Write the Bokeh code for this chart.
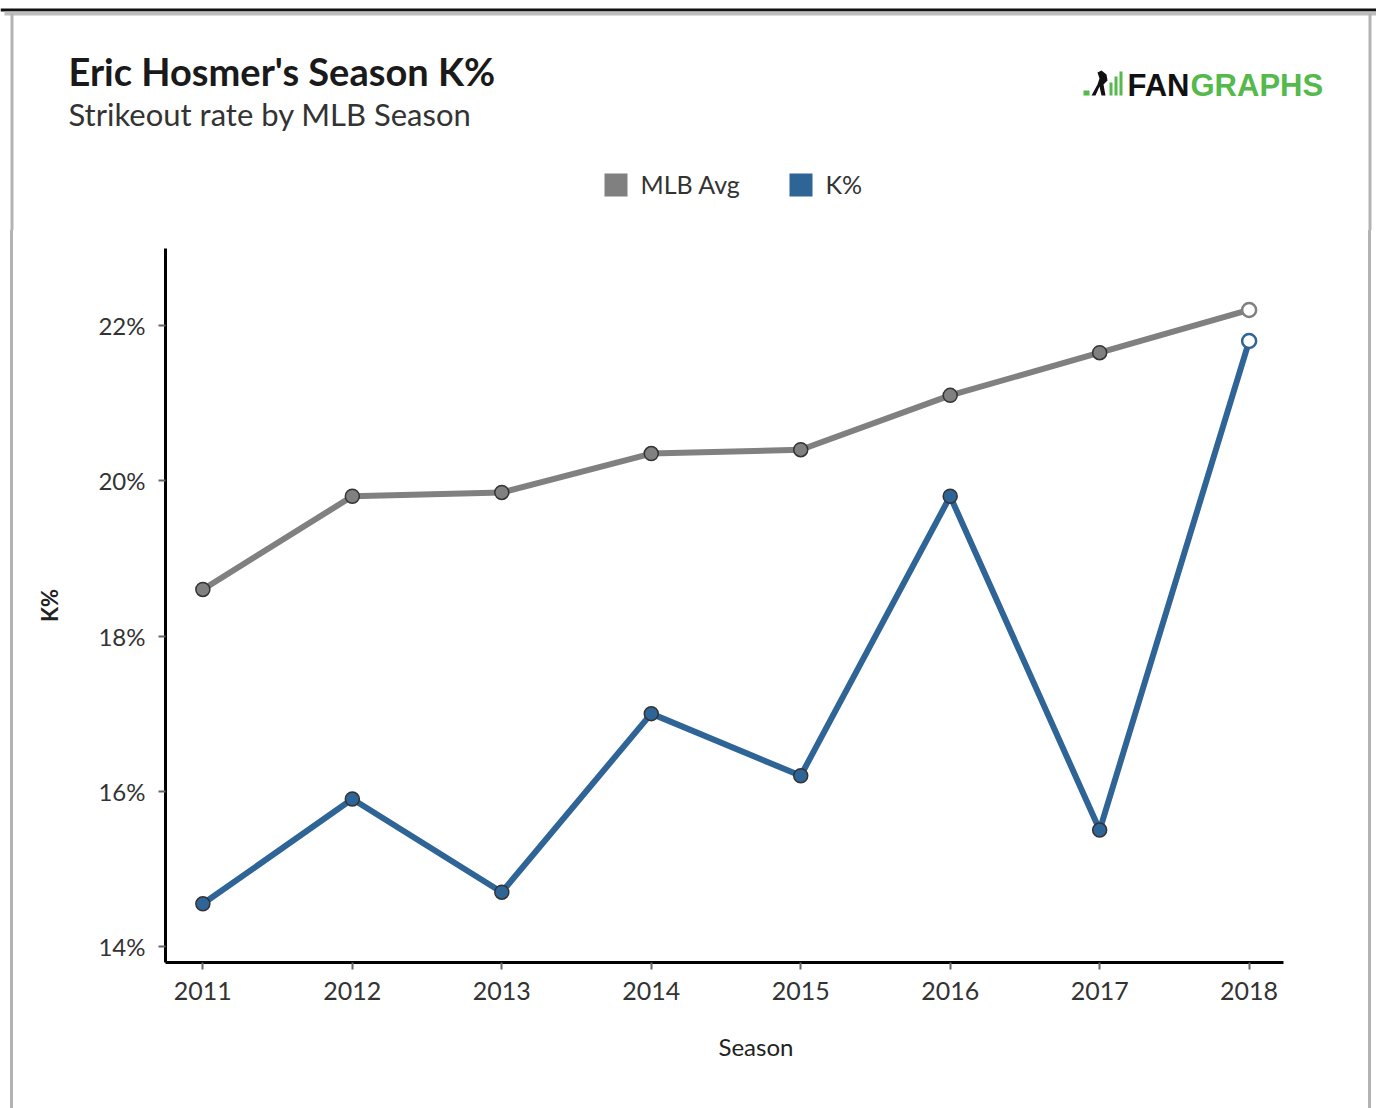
from bokeh.plotting import figure
from bokeh.models import Range1d, FixedTicker, ColumnDataSource, Title
from bokeh.core.properties import value
from bokeh.embed import file_html
from bokeh.resources import INLINE

seasons = [2011, 2012, 2013, 2014, 2015, 2016, 2017, 2018]
mlb_avg = [18.6, 19.8, 19.85, 20.35, 20.4, 21.1, 21.65, 22.2]
k_pct = [14.55, 15.9, 14.7, 17.0, 16.2, 19.8, 15.5, 21.8]
y_ticks = [14, 16, 18, 20, 22]
y_tick_labels = ["14%", "16%", "18%", "20%", "22%"]
legend_labels = ["MLB Avg", "K%"]

GRAY = "#808080"
BLUE = "#2f6497"
GREEN = "#55b94c"
FONT = "Lato"

W, H = 1376, 1108
HEAD_H = 230
FL, FR, FT, FB = 165, 1283, 248, 962

# ---------------- header (title, logo, legend, frame lines) ----------------
hd = figure(width=W, height=HEAD_H, output_backend="svg", toolbar_location=None,
            frame_width=W, frame_height=HEAD_H,
            x_range=Range1d(0, W), y_range=Range1d(HEAD_H, 0),
            x_axis_location=None, y_axis_location=None, min_border=0)
hd.grid.visible = False
hd.outline_line_color = None

# page frame lines
hd.quad(left=[0], right=[W], top=[8], bottom=[11], fill_color="#111111", line_color=None)
hd.quad(left=[4], right=[W], top=[11], bottom=[15], fill_color="#bdbdbd", line_color=None)
hd.quad(left=[10, 1368], right=[13, 1371], top=[13, 13], bottom=[HEAD_H, HEAD_H],
        fill_color="#b3b3b3", line_color=None)

hd.text(x=[68], y=[70], text=["Eric Hosmer's Season K%"], text_font=value(FONT),
        text_font_size="38px", text_font_style="bold", text_color="#1a1a1a",
        text_baseline="middle")
hd.text(x=[68], y=[113], text=["Strikeout rate by MLB Season"], text_font=value(FONT),
        text_font_size="31px", text_color="#333333", text_baseline="middle")

# logo
hd.quad(left=[1083], right=[1089], top=[90], bottom=[95], fill_color=GREEN, line_color=None)
hd.patch(x=[1091, 1097, 1099, 1097, 1101, 1106, 1107, 1103, 1105, 1101, 1099, 1095],
         y=[95, 84, 78, 72, 70, 74, 80, 84, 95, 95, 86, 95],
         fill_color="#111111", line_color=None)
hd.quad(left=[1109, 1114, 1119], right=[1112, 1117, 1122], top=[82, 76, 71],
        bottom=[95, 95, 95], fill_color=GREEN, line_color=None)
hd.text(x=[1127], y=[85], text=["FAN"], text_font=value("Liberation Sans"),
        text_font_size="31px", text_font_style="bold", text_color="#111111",
        text_baseline="middle")
hd.text(x=[1190], y=[85], text=["GRAPHS"], text_font=value("Liberation Sans"),
        text_font_size="31px", text_font_style="bold", text_color=GREEN,
        text_baseline="middle")

# legend
hd.quad(left=[604, 789], right=[627, 812], top=[173, 173], bottom=[196, 196],
        fill_color=[GRAY, BLUE], line_color=None)
hd.text(x=[640, 825], y=[183, 183], text=legend_labels, text_font=value(FONT),
        text_font_size="25px", text_color="#333333", text_baseline="middle")

# ---------------- main chart ----------------
MH = H - HEAD_H
p = figure(width=W, height=MH, output_backend="svg", toolbar_location=None,
           frame_width=FR - FL, frame_height=FB - FT,
           min_border_left=FL, min_border_right=W - FR,
           min_border_top=FT - HEAD_H, min_border_bottom=H - FB,
           x_range=Range1d(2010.75, 2018.23), y_range=Range1d(13.794, 22.992))
p.grid.visible = False
p.outline_line_color = None
p.border_fill_alpha = 0
p.background_fill_alpha = 0
p.styles = {"background": "linear-gradient(to right, #ffffff 10px, #b3b3b3 10px, #b3b3b3 13px, "
                          "#ffffff 13px, #ffffff 1368px, #b3b3b3 1368px, #b3b3b3 1371px, "
                          "#ffffff 1371px)"}

p.yaxis.ticker = FixedTicker(ticks=y_ticks)
p.yaxis.major_label_overrides = {t: l for t, l in zip(y_ticks, y_tick_labels)}
p.xaxis.ticker = FixedTicker(ticks=seasons)
for ax in (p.xaxis, p.yaxis):
    ax.axis_line_color = "black"
    ax.axis_line_width = 3
    ax.major_tick_line_color = "#666666"
    ax.major_tick_line_width = 2
    ax.major_tick_out = 7
    ax.major_tick_in = 0
    ax.minor_tick_line_color = None
    ax.major_label_text_font = FONT
    ax.major_label_text_color = "#333333"
    ax.axis_label_text_font = FONT
    ax.axis_label_text_color = "#222222"
p.yaxis.major_label_text_font_size = "24px"
p.xaxis.major_label_text_font_size = "25px"
p.yaxis.major_label_standoff = 13
p.xaxis.major_label_standoff = 12
p.yaxis.axis_label = "K%"
p.yaxis.axis_label_text_font_style = "bold"
p.yaxis.axis_label_text_font_size = "22px"
p.yaxis.axis_label_standoff = 32

p.add_layout(Title(text="Season", align="left", offset=553, standoff=55,
                   text_font=FONT, text_font_size="24px", text_font_style="normal",
                   text_color="#222222"), "below")

src_done = ColumnDataSource(dict(x=seasons[:-1], m=mlb_avg[:-1], k=k_pct[:-1]))
src_cur = ColumnDataSource(dict(x=seasons[-1:], m=mlb_avg[-1:], k=k_pct[-1:]))
p.line(seasons, mlb_avg, line_color=GRAY, line_width=6)
p.line(seasons, k_pct, line_color=BLUE, line_width=6)
p.scatter("x", "m", source=src_done, size=14, fill_color=GRAY, line_color="#333333", line_width=1.5)
p.scatter("x", "k", source=src_done, size=14, fill_color=BLUE, line_color="#333333", line_width=1.5)
p.scatter("x", "m", source=src_cur, size=14, fill_color="white", line_color=GRAY, line_width=2.5)
p.scatter("x", "k", source=src_cur, size=14, fill_color="white", line_color=BLUE, line_width=2.5)

open("out.html", "w").write(file_html([hd, p], INLINE))
